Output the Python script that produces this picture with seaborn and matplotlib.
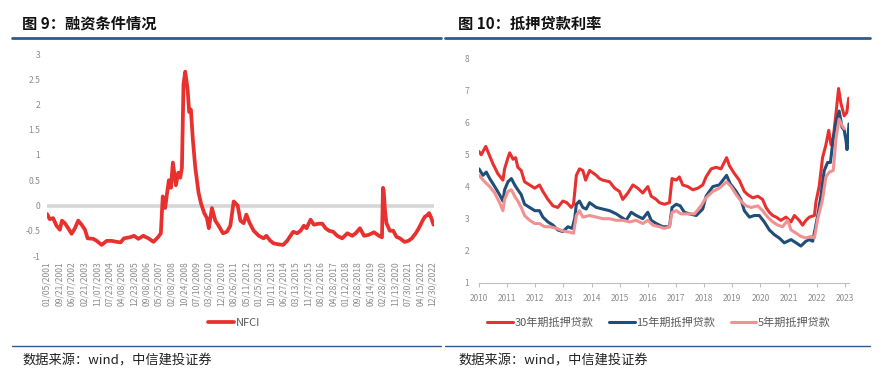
import pandas as pd
import matplotlib.pyplot as plt
import seaborn as sns
from matplotlib.lines import Line2D

# ---- data ----
# Fig 9: NFCI (weekly in the source, key points here)
nfci_dates = ["2001-01-05", "2001-03-01", "2001-05-10", "2001-07-20", "2001-09-28", "2001-11-10",
              "2002-01-10", "2002-03-20", "2002-05-30", "2002-08-08", "2002-10-15", "2002-12-25",
              "2003-03-05", "2003-04-28", "2003-08-25", "2003-11-03", "2004-02-15", "2004-05-30",
              "2004-09-10", "2004-12-25", "2005-03-15", "2005-05-25", "2005-09-25", "2005-12-20",
              "2006-03-20", "2006-07-01", "2006-10-15", "2007-01-30", "2007-05-10", "2007-07-01",
              "2007-08-10", "2007-09-28", "2007-11-02", "2007-12-15", "2008-01-25", "2008-03-08",
              "2008-05-08", "2008-06-28", "2008-08-08", "2008-09-12", "2008-10-15", "2008-11-20",
              "2009-01-08", "2009-02-10", "2009-03-17", "2009-04-28", "2009-06-17", "2009-08-25",
              "2009-10-12", "2009-12-20", "2010-02-15", "2010-03-26", "2010-05-30", "2010-08-08",
              "2010-10-15", "2011-01-15", "2011-04-08", "2011-06-17", "2011-08-26", "2011-11-17",
              "2012-01-12", "2012-03-20", "2012-05-15", "2012-07-24", "2012-10-15", "2013-01-30",
              "2013-05-10", "2013-07-05", "2013-09-28", "2013-12-05", "2014-03-20", "2014-06-20",
              "2014-09-12", "2014-11-20", "2015-01-15", "2015-04-08", "2015-06-17", "2015-08-26",
              "2015-10-20", "2016-01-12", "2016-03-20", "2016-07-01", "2016-09-12", "2016-11-20",
              "2017-01-30", "2017-04-28", "2017-07-20", "2017-11-02", "2018-02-15", "2018-05-30",
              "2018-08-08", "2018-11-05", "2019-01-30", "2019-05-10", "2019-08-25", "2019-12-05",
              "2020-02-07", "2020-02-28", "2020-03-13", "2020-04-10", "2020-05-10", "2020-07-20",
              "2020-09-28", "2020-12-05", "2021-02-15", "2021-05-20", "2021-08-10", "2021-10-20",
              "2022-01-10", "2022-03-15", "2022-06-01", "2022-07-20", "2022-08-30", "2022-10-15",
              "2022-11-30", "2023-01-15"]
nfci_values = [-0.17, -0.27, -0.25, -0.40, -0.48, -0.30,
               -0.35, -0.45, -0.56, -0.45, -0.30, -0.38,
               -0.48, -0.65, -0.66, -0.70, -0.78, -0.70,
               -0.70, -0.72, -0.73, -0.65, -0.63, -0.60,
               -0.66, -0.60, -0.65, -0.72, -0.62, -0.55,
               0.18, -0.05, 0.20, 0.50, 0.35, 0.85,
               0.40, 0.65, 0.55, 0.75, 2.40, 2.65,
               2.30, 1.85, 1.90, 1.30, 0.75, 0.25,
               0.05, -0.15, -0.25, -0.45, -0.05, -0.30,
               -0.40, -0.55, -0.52, -0.40, 0.08, 0.00,
               -0.30, -0.35, -0.18, -0.35, -0.50, -0.60,
               -0.65, -0.60, -0.70, -0.75, -0.77, -0.78,
               -0.70, -0.60, -0.52, -0.55, -0.50, -0.40,
               -0.45, -0.28, -0.38, -0.36, -0.36, -0.45,
               -0.50, -0.52, -0.60, -0.65, -0.55, -0.60,
               -0.55, -0.45, -0.60, -0.58, -0.53, -0.60,
               -0.63, 0.35, 0.30, -0.10, -0.35, -0.50,
               -0.50, -0.62, -0.65, -0.72, -0.70, -0.65,
               -0.55, -0.45, -0.30, -0.22, -0.20, -0.15,
               -0.25, -0.38]
nfci_ticklabels = ["01/05/2001", "09/21/2001", "06/07/2002", "02/21/2003", "11/07/2003", "07/23/2004",
                   "04/08/2005", "12/23/2005", "09/08/2006", "05/25/2007", "02/08/2008", "10/24/2008",
                   "07/10/2009", "03/26/2010", "12/10/2010", "08/26/2011", "05/11/2012", "01/25/2013",
                   "10/11/2013", "06/27/2014", "03/13/2015", "11/27/2015", "08/12/2016", "04/28/2017",
                   "01/12/2018", "09/28/2018", "06/14/2019", "02/28/2020", "11/13/2020", "07/30/2021",
                   "04/15/2022", "12/30/2022"]

# Fig 10: mortgage rates, time in years after 2010
t30 = [0.00, 0.08, 0.24, 0.38, 0.50, 0.67, 0.85, 0.91, 1.03, 1.09, 1.21, 1.30, 1.38, 1.50, 1.62,
       1.80, 1.98, 2.15, 2.27, 2.45, 2.63, 2.80, 2.98, 3.12, 3.28, 3.36, 3.46, 3.57, 3.69, 3.79,
       3.93, 4.17, 4.28, 4.40, 4.64, 4.82, 4.99, 5.11, 5.29, 5.47, 5.64, 5.82, 6.00, 6.12, 6.30,
       6.41, 6.59, 6.77, 6.86, 7.01, 7.12, 7.24, 7.42, 7.60, 7.78, 7.95, 8.07, 8.25, 8.43, 8.60,
       8.80, 8.90, 9.08, 9.25, 9.43, 9.55, 9.73, 9.91, 10.08, 10.20, 10.32, 10.44, 10.56, 10.73,
       10.91, 11.09, 11.21, 11.38, 11.50, 11.62, 11.74, 11.92, 11.98, 12.09, 12.21, 12.33, 12.43,
       12.51, 12.59, 12.69, 12.78, 12.86, 12.98, 13.07, 13.14]
rate30 = [5.09, 4.99, 5.25, 4.95, 4.70, 4.40, 4.20, 4.55, 4.90, 5.05, 4.85, 4.90, 4.60, 4.50, 4.15,
          4.05, 3.95, 4.05, 3.85, 3.60, 3.40, 3.35, 3.55, 3.50, 3.35, 3.45, 4.35, 4.55, 4.50, 4.20,
          4.50, 4.35, 4.25, 4.20, 4.15, 3.95, 3.85, 3.60, 3.80, 4.05, 3.95, 3.80, 4.00, 3.70, 3.60,
          3.50, 3.45, 3.50, 4.25, 4.20, 4.30, 4.05, 4.00, 3.90, 3.95, 4.05, 4.30, 4.55, 4.60, 4.55,
          4.90, 4.65, 4.40, 4.20, 3.85, 3.75, 3.65, 3.70, 3.60, 3.35, 3.20, 3.10, 3.05, 2.95,
          3.05, 2.90, 3.10, 2.95, 2.80, 2.95, 3.05, 3.10, 3.55, 4.00, 4.90, 5.30, 5.75,
          5.30, 5.50, 6.30, 7.05, 6.60, 6.20, 6.30, 6.75]

t15 = [0.00, 0.14, 0.26, 0.38, 0.56, 0.73, 0.85, 0.91, 1.03, 1.15, 1.27, 1.38, 1.50, 1.62, 1.80,
       1.98, 2.15, 2.27, 2.45, 2.63, 2.80, 2.98, 3.16, 3.31, 3.40, 3.46, 3.57, 3.69, 3.81, 3.93,
       4.17, 4.40, 4.64, 4.88, 5.05, 5.23, 5.41, 5.59, 5.82, 6.00, 6.12, 6.30, 6.53, 6.77, 6.86,
       7.01, 7.15, 7.30, 7.48, 7.72, 7.95, 8.07, 8.31, 8.54, 8.80, 8.92, 9.14, 9.31, 9.43, 9.61,
       9.79, 9.96, 10.14, 10.32, 10.50, 10.67, 10.85, 11.09, 11.27, 11.44, 11.62, 11.74, 11.86,
       12.04, 12.15, 12.27, 12.39, 12.49, 12.59, 12.69, 12.80, 12.90, 12.98, 13.04, 13.08, 13.15]
rate15 = [4.55, 4.35, 4.45, 4.25, 4.00, 3.75, 3.55, 3.90, 4.15, 4.25, 4.05, 3.90, 3.75, 3.45, 3.35,
          3.25, 3.25, 3.05, 2.90, 2.80, 2.65, 2.60, 2.75, 2.70, 3.00, 3.45, 3.55, 3.35, 3.30, 3.50,
          3.35, 3.30, 3.25, 3.15, 3.05, 2.95, 3.20, 3.10, 3.00, 3.20, 2.95, 2.85, 2.75, 2.75, 3.35,
          3.45, 3.40, 3.20, 3.15, 3.10, 3.30, 3.70, 4.00, 4.05, 4.35, 4.10, 3.85, 3.60, 3.25, 3.05,
          3.10, 3.10, 2.90, 2.65, 2.50, 2.40, 2.25, 2.35, 2.25, 2.15, 2.30, 2.35, 2.30,
          3.10, 3.70, 4.50, 4.75, 4.75, 5.50, 6.00, 6.35, 5.85, 5.75, 5.45, 5.15, 5.95]

t5 = [0.00, 0.20, 0.38, 0.56, 0.73, 0.85, 0.91, 1.03, 1.15, 1.27, 1.38, 1.50, 1.62, 1.80, 1.98,
      2.15, 2.33, 2.51, 2.75, 2.98, 3.22, 3.36, 3.46, 3.57, 3.69, 3.93, 4.17, 4.40, 4.64, 4.88,
      5.11, 5.35, 5.59, 5.82, 6.00, 6.18, 6.41, 6.59, 6.77, 6.86, 7.01, 7.18, 7.42, 7.66, 7.89,
      8.07, 8.31, 8.54, 8.80, 8.96, 9.14, 9.31, 9.49, 9.67, 9.91, 10.08, 10.26, 10.44, 10.62,
      10.79, 10.97, 11.09, 11.27, 11.44, 11.62, 11.80, 11.92, 12.04, 12.21, 12.33, 12.45, 12.59,
      12.69, 12.80, 12.90, 12.98]
rate5 = [4.35, 4.15, 4.00, 3.80, 3.50, 3.25, 3.60, 3.85, 3.90, 3.70, 3.55, 3.35, 3.10, 2.95, 2.85,
         2.85, 2.75, 2.75, 2.70, 2.62, 2.58, 2.55, 3.10, 3.25, 3.05, 3.10, 3.05, 3.00, 3.00, 2.95,
         2.95, 2.90, 2.95, 2.85, 2.95, 2.80, 2.75, 2.70, 2.75, 3.20, 3.25, 3.15, 3.15, 3.15, 3.40,
         3.65, 3.85, 3.95, 4.15, 4.00, 3.75, 3.55, 3.40, 3.35, 3.40, 3.25, 3.05, 2.90, 2.80,
         2.75, 2.95, 2.65, 2.55, 2.45, 2.40, 2.45, 2.40, 3.00, 3.60, 4.30, 4.45, 4.50,
         5.50, 6.10, 5.90, 5.80]

series_names = ["30年期抵押贷款", "15年期抵押贷款", "5年期抵押贷款"]
series_colors = ["#E8312F", "#1F4E79", "#F29191"]
years = list(range(2010, 2024))

# ---- style ----
sns.set_theme(style="white")
plt.rcParams['font.family'] = ['Noto Sans CJK SC', 'DejaVu Sans']

W, H = 887, 380
fig = plt.figure(figsize=(W / 100, H / 100), dpi=100)
tick_gray = "#8C8C8C"
rule_blue = "#2F5B8C"

# ---- left: NFCI ----
nfci = pd.DataFrame({"date": pd.to_datetime(nfci_dates), "NFCI": nfci_values})
ax1 = fig.add_axes([47 / W, 1 - 256 / H, 387 / W, 202 / H])
ax1.axhline(0, color="#D6D6D6", lw=2.6, zorder=1)
sns.lineplot(data=nfci, x="date", y="NFCI", ax=ax1, color="#E8302E", lw=2.7,
             label="NFCI", zorder=3)
ax1.set_ylim(-1, 3)
ax1.set_yticks([-1, -0.5, 0, 0.5, 1, 1.5, 2, 2.5, 3])
ax1.set_yticklabels(["-1", "-0.5", "0", "0.5", "1", "1.5", "2", "2.5", "3"])
ax1.set_xlim(pd.Timestamp("2001-01-03"), pd.Timestamp("2023-01-25"))
ax1.set_xticks(pd.to_datetime(nfci_ticklabels, format="%m/%d/%Y"))
ax1.set_xticklabels(nfci_ticklabels, rotation=90)
ax1.tick_params(axis="both", length=0, labelsize=6.2, labelcolor=tick_gray)
ax1.tick_params(axis="y", pad=5)
ax1.tick_params(axis="x", pad=4)
ax1.set_xlabel("")
ax1.set_ylabel("")
for s in ax1.spines.values():
    s.set_visible(False)
sns.move_legend(ax1, "center", bbox_to_anchor=(234 / W, 1 - 323 / H),
                bbox_transform=fig.transFigure, frameon=False, fontsize=8,
                handlelength=2.3, handletextpad=0.15, labelcolor="#595959")

# ---- right: mortgage rates ----
rows = []
for name, ts, vs in zip(series_names, [t30, t15, t5], [rate30, rate15, rate5]):
    for t, v in zip(ts, vs):
        rows.append({"year": 2010 + t, "rate": v, "series": name})
rates = pd.DataFrame(rows)

ax2 = fig.add_axes([479 / W, 1 - 283 / H, 370 / W, 225 / H])
sns.lineplot(data=rates, x="year", y="rate", hue="series", hue_order=series_names,
             palette=series_colors, ax=ax2, lw=2.2)
ax2.set_ylim(1, 8)
ax2.set_yticks(range(1, 9))
ax2.set_xlim(2010, 2023.15)
ax2.set_xticks(years)
ax2.set_xticklabels([str(y) for y in years])
ax2.tick_params(axis="y", length=0, labelsize=6, labelcolor=tick_gray, pad=7)
ax2.tick_params(axis="x", length=3, width=0.8, color="#BFBFBF", direction="out",
                labelsize=6, labelcolor=tick_gray, pad=5, bottom=True)
ax2.set_xlabel("")
ax2.set_ylabel("")
for k in ["left", "right", "top"]:
    ax2.spines[k].set_visible(False)
ax2.spines["bottom"].set_color("#BFBFBF")
ax2.spines["bottom"].set_linewidth(0.8)
sns.move_legend(ax2, "center", bbox_to_anchor=(659 / W, 1 - 323 / H),
                bbox_transform=fig.transFigure, ncol=3, frameon=False, fontsize=8,
                title=None, handlelength=2.3, handletextpad=0.15, columnspacing=1.4,
                labelcolor="#595959")

# ---- titles, rules, source notes ----
fig.text(22 / W, 1 - 24 / H, "图 9：融资条件情况", fontsize=11, fontweight="bold",
         va="center", color="#111111")
fig.text(458 / W, 1 - 24 / H, "图 10：抵押贷款利率", fontsize=11, fontweight="bold",
         va="center", color="#111111")
for x0, x1 in [(12, 441), (445, 870)]:
    fig.add_artist(Line2D([x0 / W, x1 / W], [1 - 38 / H] * 2, color=rule_blue, lw=2))
    fig.add_artist(Line2D([x0 / W, x1 / W], [1 - 346 / H] * 2, color=rule_blue, lw=1))
fig.text(22 / W, 1 - 361 / H, "数据来源：wind，中信建投证券", fontsize=9.5,
         style="italic", va="center", color="#222222")
fig.text(458 / W, 1 - 361 / H, "数据来源：wind，中信建投证券", fontsize=9.5,
         style="italic", va="center", color="#222222")

fig.savefig("out.png", dpi=100)
